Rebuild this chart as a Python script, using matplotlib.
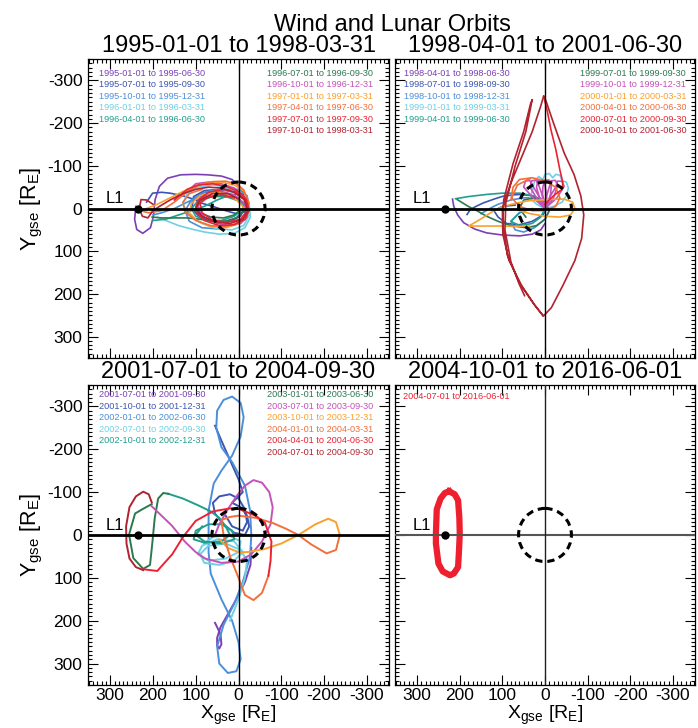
import numpy as np
import matplotlib
matplotlib.use("Agg")
import matplotlib.pyplot as plt
from matplotlib.patches import Circle
from matplotlib.ticker import MultipleLocator

plt.rcParams['font.family'] = ['Liberation Sans', 'DejaVu Sans']
plt.rcParams['mathtext.fontset'] = 'custom'
plt.rcParams['mathtext.rm'] = 'Liberation Sans'
plt.rcParams['mathtext.it'] = 'Liberation Sans:italic'
plt.rcParams['axes.unicode_minus'] = False

# colour of each period (same order in the first three panels)
colors = ['#7b3fb5', '#3c55b2', '#4b8fd9', '#6fd1e3', '#1fa08f', '#2b7a4f',
          '#c452b8', '#f9a12e', '#f26f3d', '#ec2233', '#b1232f']
red4 = '#ee2030'

titles = ['1995-01-01 to 1998-03-31', '1998-04-01 to 2001-06-30',
          '2001-07-01 to 2004-09-30', '2004-10-01 to 2016-06-01']

labels_p1 = ['1995-01-01 to 1995-06-30', '1995-07-01 to 1995-09-30', '1995-10-01 to 1995-12-31',
             '1996-01-01 to 1996-03-31', '1996-04-01 to 1996-06-30', '1996-07-01 to 1996-09-30',
             '1996-10-01 to 1996-12-31', '1997-01-01 to 1997-03-31', '1997-04-01 to 1997-06-30',
             '1997-07-01 to 1997-09-30', '1997-10-01 to 1998-03-31']
labels_p2 = ['1998-04-01 to 1998-06-30', '1998-07-01 to 1998-09-30', '1998-10-01 to 1998-12-31',
             '1999-01-01 to 1999-03-31', '1999-04-01 to 1999-06-30', '1999-07-01 to 1999-09-30',
             '1999-10-01 to 1999-12-31', '2000-01-01 to 2000-03-31', '2000-04-01 to 2000-06-30',
             '2000-07-01 to 2000-09-30', '2000-10-01 to 2001-06-30']
labels_p3 = ['2001-07-01 to 2001-09-30', '2001-10-01 to 2001-12-31', '2002-01-01 to 2002-06-30',
             '2002-07-01 to 2002-09-30', '2002-10-01 to 2002-12-31', '2003-01-01 to 2003-06-30',
             '2003-07-01 to 2003-09-30', '2003-10-01 to 2003-12-31', '2004-01-01 to 2004-03-31',
             '2004-04-01 to 2004-06-30', '2004-07-01 to 2004-09-30']
labels_p4 = ['2004-07-01 to 2016-06-01']

l1_x = 235        # L1 point, R_E
moon_r = 62       # lunar orbit radius, R_E

# ---- panel 1 tracks (X_gse, Y_gse in R_E)
p1_x = [
    [240, 243, 238, 224, 206, 199, 195, 185, 166, 135, 100, 73, 40, 15, -2, -12, -15, -5, 20, 55, 90, 110, 105, 80, 45, 15],
    [215, 201, 180, 160, 127, 100, 88, 60, 30, 5, -15, -22, -15, 5, 40, 80, 105, 110, 95, 65, 30, 5, -12],
    [200, 180, 150, 120, 90, 60, 30, 0, -20, -25, -15, 10, 45, 85, 115, 125, 110, 80, 45, 10, -15],
    [190, 170, 140, 110, 80, 45, 10, -15, -28, -25, -5, 25, 60, 95, 120, 130, 115, 85, 50, 15, -12, -25],
    [200, 170, 140, 110, 80, 50, 20, -5, -18, -12, 10, 40, 75, 100, 110, 95, 65, 30, 0, -15],
    [202, 180, 150, 119, 90, 60, 30, 5, -10, -12, 0, 25, 55, 85, 100, 90, 65, 35, 10, -5],
    [120, 100, 70, 40, 10, -10, -22, -20, -5, 20, 50, 80, 95, 90, 70, 40, 10, -10, -20, -15],
    [215, 190, 160, 130, 100, 70, 40, 10, -12, -24, -20, 0, 30, 65, 95, 115, 110, 90, 60, 30, 5, -15],
    [230, 210, 180, 150, 119, 90, 60, 30, 5, -12, -24, -20, 0, 30, 65, 100, 125, 130, 115, 85],
    [150, 120, 95, 60, 30, 0, -18, -25, -15, 10, 45, 80, 100, 95, 70, 35, 5, -15, -20, -5, 25, 60, 85, 90, 70, 40, 10],
    [200, 215, 228, 232, 225, 212, 200, 185, 160, 130, 100, 70, 40, 10, -15, -22, -10, 20, 55, 85, 100, 90, 60, 25, 0],
]
p1_y = [
    [-5, 25, 49, 58, 45, 18, -21, -52, -71, -79, -80, -79, -76, -68, -52, -32, -5, 18, 30, 32, 20, 0, -22, -38, -40, -30],
    [-15, -36, -38, -36, -29, -20, -13, -5, 5, 12, 8, -8, -25, -38, -45, -42, -28, -5, 15, 28, 30, 22, 5],
    [15, 10, 0, -15, -28, -38, -45, -45, -30, -5, 20, 38, 48, 45, 30, 5, -20, -38, -45, -38, -20],
    [20, 28, 40, 48, 55, 60, 58, 45, 20, -10, -35, -50, -55, -50, -35, -10, 15, 35, 48, 50, 40, 15],
    [28, 25, 15, 5, -5, -20, -32, -35, -20, 0, 18, 28, 28, 18, 0, -18, -28, -28, -18, 0],
    [20, 22, 22, 22, 25, 30, 30, 22, 8, -10, -25, -32, -30, -20, -5, 10, 20, 22, 15, 2],
    [-40, -58, -62, -58, -48, -30, -5, 20, 35, 40, 35, 20, 0, -20, -35, -40, -32, -15, 5, 25],
    [0, -10, -25, -40, -52, -60, -62, -55, -42, -15, 15, 35, 45, 42, 30, 10, -12, -30, -38, -35, -20, 0],
    [5, 10, 5, -15, -40, -56, -63, -64, -58, -44, -13, 18, 33, 42, 40, 28, 8, -15, -35, -45],
    [-20, -45, -55, -58, -52, -40, -22, 5, 25, 38, 40, 28, 5, -20, -38, -45, -38, -20, 5, 25, 32, 28, 10, -12, -28, -32, -25],
    [-10, -20, -21, 0, 18, 22, 5, -5, -20, -35, -45, -50, -48, -38, -20, 5, 25, 35, 32, 18, 0, -20, -35, -35, -22],
]

# ---- panel 2 tracks
p2_x = [
    [217, 214, 205, 191, 165, 137, 100, 59, 30, 10, 0],
    [183, 175, 160, 145, 120, 98, 75, 59, 30, 5, -5, 5, 30, 60, 90, 110, 120, 100, 70],
    [150, 130, 110, 80, 50, 20, 0, -10, 0, 25, 50, 70, 80, 60, 30],
    [30, 25, 15, 5, 0, -10, -18, -25, -35, -40, -50, -55, -50, -40, -20, 0, 20, 35, 30],
    [210, 180, 137, 100, 59, 30, 10, 0, 10, 30, 60, 80, 60],
    [206, 180, 160, 137, 110, 80, 44, 20, 0, -10, 0, 25, 50, 60, 45],
    [0, 28, 50, 46, 36, 30, 12, 0, 20, 35, 31, 21, 15, 4, 0, 13, 20, 16, 6, 0, -4, 0, 6, 5, 1, -9, -15, -12, 0,
     -2, -10, -14, -24, -30, -20, 0, -10, -25, -29, -39, -45, -28, 0],
    [36, 70, 100, 130, 160, 179, 160, 140, 120, 98, 70, 40, 10, -20, -45, -65, -70, -60, -35, 0, 35, 60],
    [80, 75, 60, 30, 0, -25, -35, -25, 0, 30, 60, 78, 65, 35],
    [0, -20, -40, -42, -35, -25, -14, -5, 3],
    [48, 60, 80, 94, 92, 70, 45, 33, 30, 34, 50, 75, 97, 99, 88, 60, 25, 4, -15, -42, -70, -86, -91, -84, -68,
     -45, -20, -3, 3, 10, 30, 55, 80, 100, 99, 85, 55, 25, 5],
]
p2_y = [
    [-22, -5, 15, 33, 48, 57, 62, 64, 60, 50, 35],
    [14, 2, -6, -13, -22, -29, -32, -33, -30, -20, 0, 15, 30, 38, 35, 20, 5, -5, -8],
    [12, 0, -10, -20, -25, -25, -15, 5, 25, 45, 55, 50, 30, 10, 0],
    [-40, -62, -75, -68, -80, -82, -72, -80, -78, -65, -62, -48, -30, -15, -5, 0, -10, -25, -40],
    [-23, -28, -33, -36, -36, -30, -20, 0, 20, 35, 40, 30, 10],
    [-21, -5, 5, 18, 30, 40, 45, 40, 25, 5, -15, -25, -20, 0, 20],
    [0, -25, -50, -64, -66, -55, -25, 0, -25, -50, -65, -67, -55, -25, 0, -25, -50, -66, -67, -55, -25, 0, -25,
     -50, -66, -67, -55, -25, 0, -25, -50, -65, -66, -55, -25, 0, -25, -50, -64, -64, -52, -25, 0],
    [41, 42, 41, 41, 41, 41, 30, 18, 5, -5, -12, -18, -20, -22, -22, -15, 0, 15, 20, 18, 12, 5],
    [-20, -50, -68, -72, -65, -50, -25, -5, 5, 5, -5, -25, -55, -70],
    [-10, -30, -45, -60, -90, -140, -184, -230, -262],
    [204, 178, 125, 50, -13, -100, -180, -240, -255, -245, -180, -105, -20, 40, 110, 175, 225, 252, 232, 180, 122,
     70, 15, -30, -80, -130, -200, -250, -264, -240, -180, -120, -60, 0, 60, 120, 180, 225, 250],
]

# ---- panel 3 tracks
p3_x = [
    [-30, -28, -15, 5, 25, 42, 50, 50, 45, 40, 42, 50, 55],
    [55, 40, 20, 0, -10, 15, -5, -20, -25, -15, 10, 35, 55, 60, 45, 20, 0, -15, -20, -10, 15, 30],
    [70, 58, 40, 15, -5, -12, -5, 15, 35, 50, 52, 40, 15, -15, -27, -30, -27, -10, 10, 35, 50, 45, 25, 5, -5, 0,
     15, 40, 65, 70, 70],
    [20, 0, -15, -20, -5, 30, 70, 90, 80, 45, 10, -10, 10, 50, 85, 95, 70, 30, 0, -5, 25, 60, 80],
    [164, 130, 94, 65, 45, 30, 20, 40, 80, 105, 100, 70, 40, 15, 10, 40, 80, 100, 85],
    [203, 225, 242, 256, 246, 223, 207, 202, 196, 188, 176, 164],
    [203, 180, 156, 125, 100, 78, 40, 0, -30, -55, -75, -80, -72, -55, -35, -15, 5, 25, 45, 55],
    [-237, -228, -210, -180, -140, -100, -60, -20, 0, 25, 45],
    [-70, -55, -35, -15, 0, 20, 35, 40, 20, 0, -40, -80, -110, -140, -170, -206, -228, -237],
    [223, 190, 155, 130, 100, 60, 20, 0, -40, -62, -77, -75, -70],
    [203, 210, 223, 240, 255, 263, 262, 255, 240, 223],
]
p3_y = [
    [30, 70, 110, 150, 185, 215, 240, 258, 265, 255, 232, 215, 205],
    [-255, -220, -175, -130, -100, -75, -65, -45, -20, 0, -5, -25, -50, -75, -90, -95, -85, -60, -30, -10, -20, -45],
    [-57, -120, -150, -185, -230, -275, -308, -323, -315, -290, -250, -205, -170, -115, -57, 0, 50, 110, 160, 210,
     260, 300, 322, 318, 290, 250, 200, 150, 90, 40, -57],
    [200, 150, 100, 60, 35, 20, 25, 45, 65, 70, 60, 40, 15, 10, 25, 45, 60, 55, 40, 15, 0, 5, 20],
    [-96, -85, -69, -55, -40, -20, 0, 15, 18, 10, -10, -25, -25, -10, 10, 20, 15, 0, -20],
    [-72, -60, -50, -1, 54, 79, 70, 23, -39, -85, -98, -96],
    [-67, -45, -22, 16, 40, 55, 65, 62, 45, 15, -25, -65, -100, -122, -128, -115, -90, -60, -25, 0],
    [0, -30, -38, -25, 0, 20, 33, 40, 40, 30, 10],
    [95, 135, 152, 140, 100, 50, 0, -35, -42, -45, -40, -28, -15, 0, 22, 43, 35, 0],
    [80, 84, 45, 5, -33, -55, -62, -61, -45, -28, 15, 60, 95],
    [-76, -95, -101, -90, -65, -20, 20, 55, 75, 82],
]

# ---- panel 4 track (halo orbit about L1)
p4_x = [225, 212, 204, 201, 200, 202, 204, 214, 223, 240, 250, 256, 256, 254, 245, 235, 225]
p4_y = [-102, -95, -81, -40, -3, 40, 75, 90, 94, 85, 67, 20, -3, -60, -85, -98, -102]

fig = plt.figure(figsize=(6.98, 7.28), dpi=100)
rects = [[0.1261, 0.5082, 0.4312, 0.4107], [0.5659, 0.5082, 0.4298, 0.4107],
         [0.1261, 0.0591, 0.4312, 0.4121], [0.5659, 0.0591, 0.4298, 0.4121]]
axes = [fig.add_axes(r) for r in rects]

fig.text(0.5616, 0.957, 'Wind and Lunar Orbits', ha='center', va='baseline', fontsize=17)


def setup(ax, i):
    ax.set_xlim(352, -352)
    ax.set_ylim(350, -350)
    ax.set_xticks([300, 200, 100, 0, -100, -200, -300])
    ax.set_yticks([-300, -200, -100, 0, 100, 200, 300])
    ax.xaxis.set_minor_locator(MultipleLocator(10))
    ax.yaxis.set_minor_locator(MultipleLocator(10))
    ax.tick_params(which='both', direction='in', top=True, right=True, width=0.8,
                   labelsize=12.5)
    ax.tick_params(axis='x', pad=2.5)
    ax.tick_params(axis='y', pad=4)
    ax.tick_params(which='major', length=7)
    ax.tick_params(which='minor', length=3.2)
    for s in ax.spines.values():
        s.set_linewidth(0.9)
    if i in (0, 2):
        ax.set_ylabel(r'Y$_{\mathrm{gse}}$ [R$_{\mathrm{E}}$]', fontsize=15.5, labelpad=2)
    else:
        ax.set_yticklabels([])
    if i in (2, 3):
        ax.set_xlabel(r'X$_{\mathrm{gse}}$ [R$_{\mathrm{E}}$]', fontsize=14, labelpad=0)
    else:
        ax.set_xticklabels([])
    ax.set_title(titles[i], fontsize=17, pad=5)
    if i < 3:
        ax.axhline(0, color='k', lw=2, zorder=4)
        ax.axvline(0, color='k', lw=1, zorder=4)
    else:
        ax.axhline(0, color='#555555', lw=1.5, zorder=4)
        ax.axvline(0, color='#222222', lw=1, zorder=4)
    ax.add_patch(Circle((0, 0), moon_r, fill=False, ec='k', lw=2.2,
                        ls=(0, (2.4, 1.6)), zorder=5))
    ax.plot([l1_x], [0], 'o', color='k', ms=5, zorder=6)
    ax.text(268, -12, 'L1', ha='right', va='baseline', fontsize=12)


def legend_text(ax, labels, x_left, x_right, y_top):
    for k, lab in enumerate(labels):
        if k < 5:
            ax.text(x_left, y_top - 0.0384 * k, lab, transform=ax.transAxes,
                    color=colors[k], fontsize=6.6, ha='left', va='center')
        else:
            ax.text(x_right, y_top - 0.0384 * (k - 5), lab, transform=ax.transAxes,
                    color=colors[k], fontsize=6.6, ha='left', va='center')


for i, ax in enumerate(axes):
    setup(ax, i)

for xs, ys, c in zip(p1_x, p1_y, colors):
    axes[0].plot(xs, ys, color=c, lw=1.2, solid_joinstyle='round', zorder=2)
for xs, ys, c in zip(p2_x, p2_y, colors):
    axes[1].plot(xs, ys, color=c, lw=1.2, solid_joinstyle='round', zorder=2)
for xs, ys, c in zip(p3_x, p3_y, colors):
    axes[2].plot(xs, ys, color=c, lw=1.4, solid_joinstyle='round', zorder=2)
axes[3].plot(p4_x, p4_y, color=red4, lw=4.5, solid_joinstyle='round', zorder=2)

legend_text(axes[0], labels_p1, 0.0375, 0.595, 0.952)
legend_text(axes[1], labels_p2, 0.030, 0.617, 0.952)
legend_text(axes[2], labels_p3, 0.0365, 0.595, 0.967)
axes[3].text(0.027, 0.961, labels_p4[0], transform=axes[3].transAxes,
             color=red4, fontsize=6.6, ha='left', va='center')

fig.savefig('out.png', dpi=100)
